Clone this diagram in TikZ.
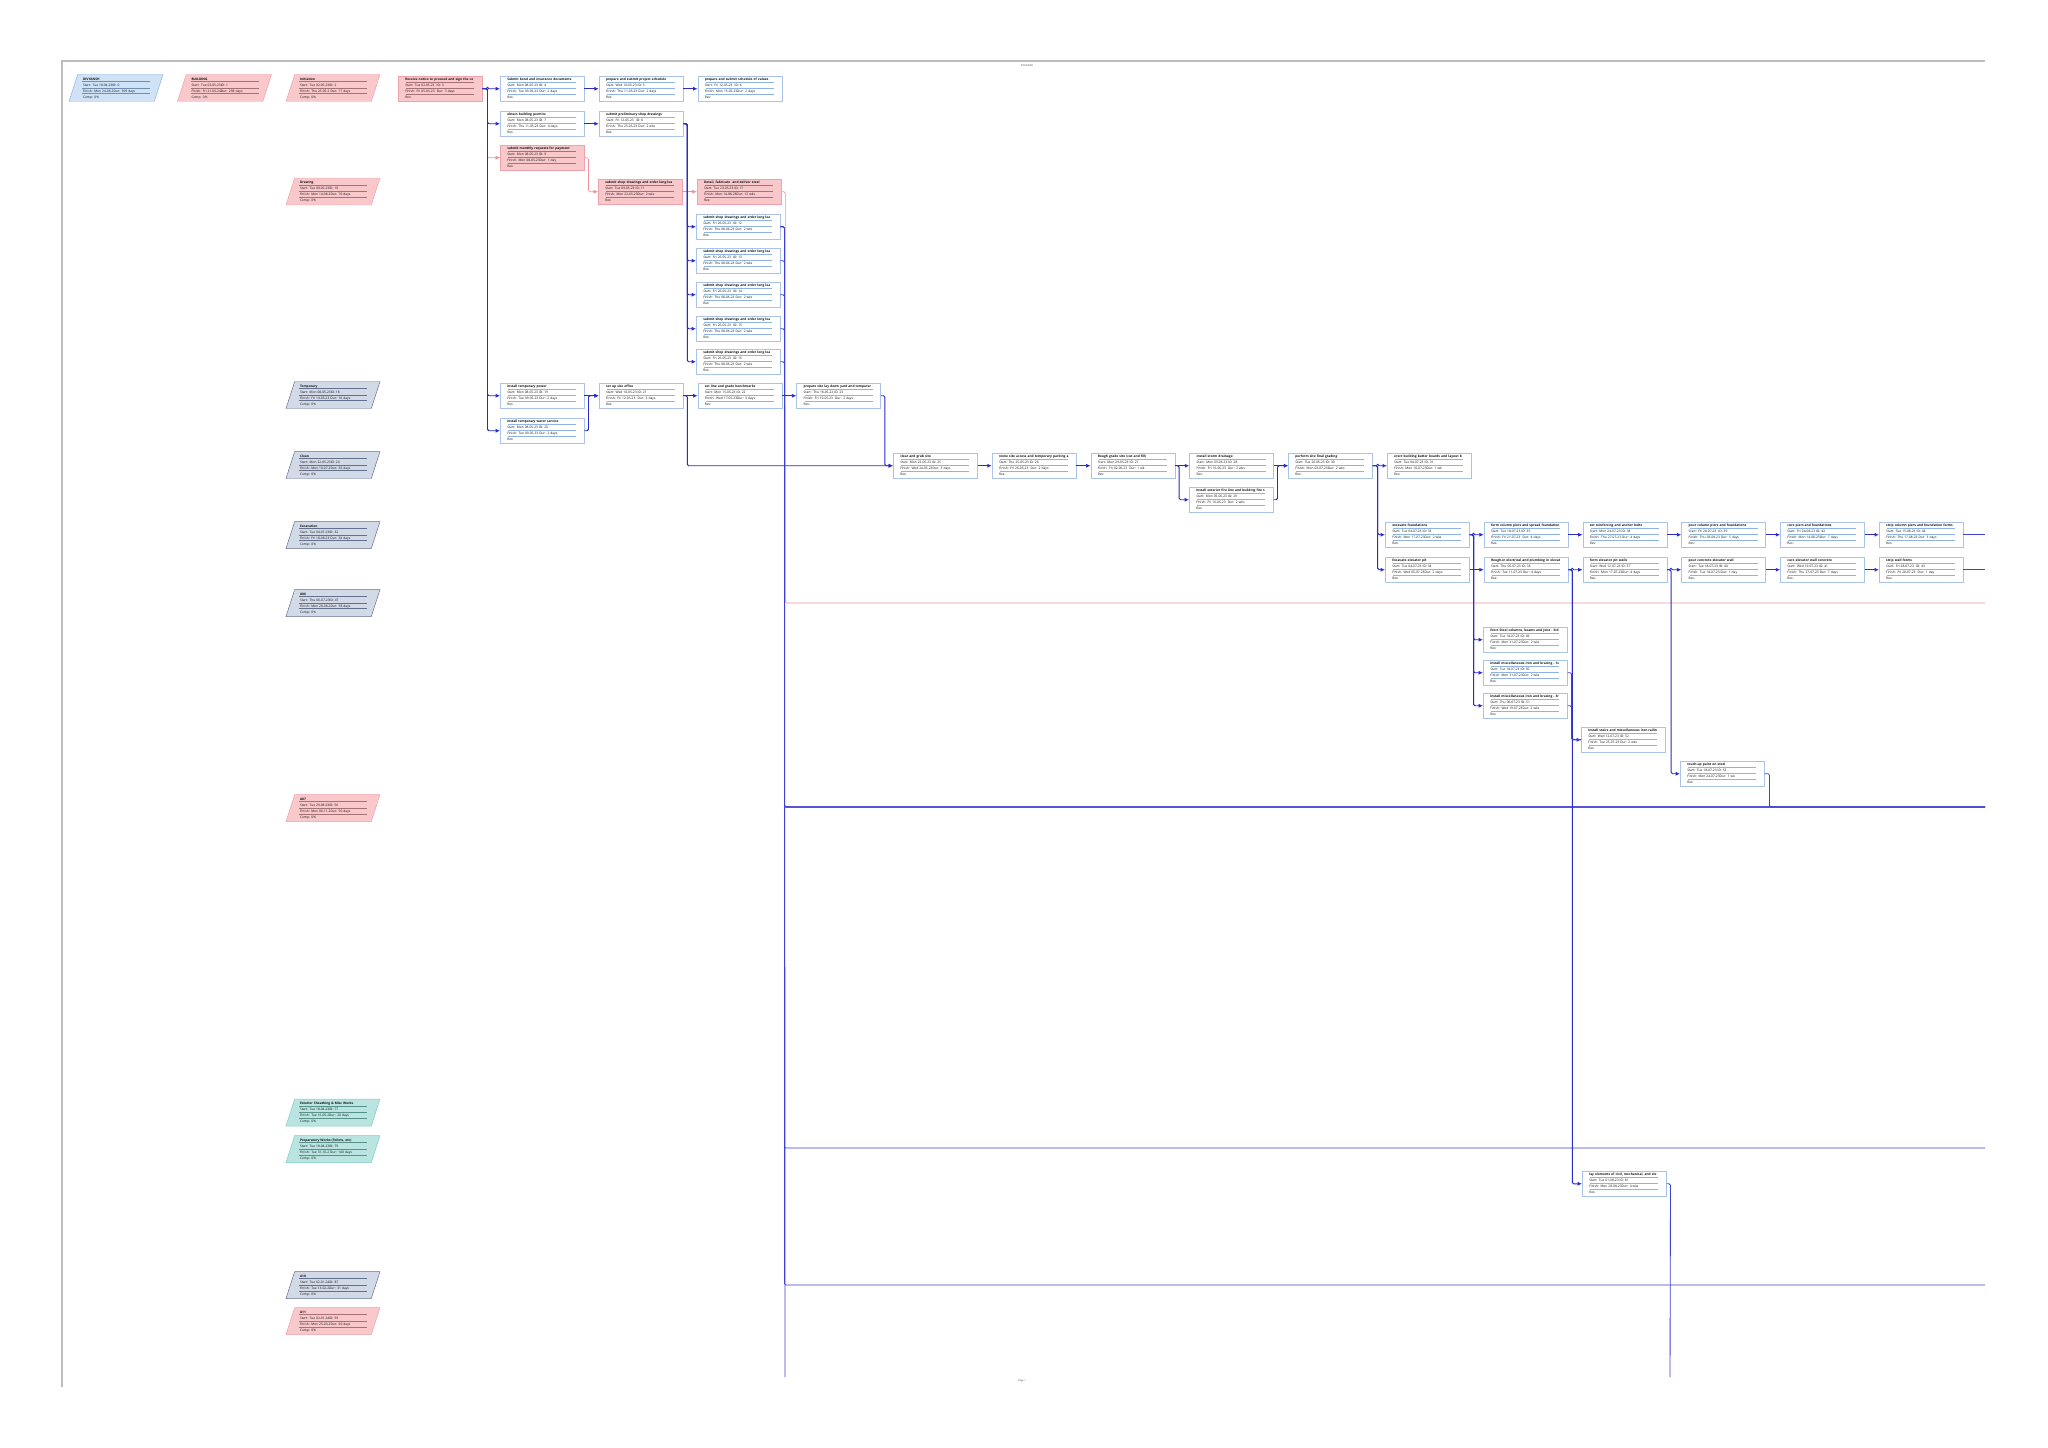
\documentclass[tikz,border=0pt]{standalone}
\usepackage{fontspec}
\setmainfont{Open Sans}
\usetikzlibrary{arrows.meta, positioning, calc, shapes.geometric}
\definecolor{linkblue}{HTML}{2B2BCC}
\definecolor{critpink}{HTML}{F0909C}
\definecolor{taskedge}{HTML}{A9C4EA}
\definecolor{rowblue}{HTML}{8FB3E2}
\definecolor{critfill}{HTML}{F9C8CB}
\definecolor{critedge}{HTML}{F0A2AA}
\definecolor{sumbluefill}{HTML}{CFE2F6}
\definecolor{sumblueedge}{HTML}{8DB3E2}
\definecolor{sumgrayfill}{HTML}{D3DAE7}
\definecolor{sumgrayedge}{HTML}{63718F}
\definecolor{sumtealfill}{HTML}{B9E4E0}
\definecolor{sumtealedge}{HTML}{7ECFC7}
\definecolor{framegray}{HTML}{BDBDBD}
\definecolor{txtdark}{HTML}{111111}

\newcommand{\boxfont}{\fontsize{4.6}{8.5}\selectfont}
\newcommand{\taskinfo}[3]{\strut\mbox{\textbf{#1}}\\#2\\#3\\Res:\strut}
\newcommand{\suminfo}[3]{\strut\mbox{\textbf{#1}}\\#2\\#3\\Comp: 0\%\strut}

\begin{document}
\begin{tikzpicture}[
    x=0.05cm, y=-0.05cm,
    node distance=0.715cm,
    text=txtdark,
    taskrows/.style={path picture={
        \foreach \f in {0.24,0.48,0.72} {
            \draw[#1, line width=0.5pt]
                ($(path picture bounding box.north west)!\f!(path picture bounding box.south west)+(0.4cm,0)$) --
                ($(path picture bounding box.north east)!\f!(path picture bounding box.south east)+(-0.4cm,0)$);
        }}},
    sumrows/.style={path picture={
        \foreach \f in {0.26,0.49,0.71} {
            \draw[#1, line width=0.5pt]
                ($(path picture bounding box.north west)!\f!(path picture bounding box.south west)+(0.65cm,0)$) --
                ($(path picture bounding box.north east)!\f!(path picture bounding box.south east)+(-0.65cm,0)$);
        }}},
    taskbox/.style={
        draw=taskedge, fill=white, line width=0.7pt, anchor=north west,
        minimum width=4.2cm, minimum height=1.25cm, text width=3.5cm,
        inner xsep=0.35cm, inner ysep=0pt, align=left, font=\boxfont,
        taskrows=rowblue,
    },
    critbox/.style={taskbox, draw=critedge, fill=critfill, taskrows=critedge!70!black},
    sumbox/.style={
        trapezium, trapezium left angle=70, trapezium right angle=110,
        trapezium stretches body, minimum width=4.7cm, minimum height=1.35cm,
        text width=3.3cm, inner xsep=1pt, inner ysep=0pt, align=left,
        font=\boxfont, line width=0.7pt,
    },
    sumblue/.style={sumbox, draw=sumblueedge, fill=sumbluefill, sumrows=sumblueedge!80!black},
    sumpink/.style={sumbox, draw=critedge, fill=critfill, sumrows=critedge!70!black},
    sumgray/.style={sumbox, draw=sumgrayedge, fill=sumgrayfill, sumrows=sumgrayedge},
    sumteal/.style={sumbox, draw=sumtealedge, fill=sumtealfill, sumrows=sumtealedge!70!black},
    link/.style={-{Latex[length=0.22cm,width=0.2cm]}, line width=1.4pt, color=linkblue, rounded corners=2pt},
    linkoff/.style={line width=1.2pt, color=linkblue!90!white, rounded corners=2pt},
    critlink/.style={-{Latex[length=0.22cm,width=0.2cm]}, line width=0.8pt, color=critpink, rounded corners=2pt},
    critoff/.style={line width=0.8pt, color=critpink, rounded corners=2pt},
    frameline/.style={draw=framegray, line width=1.5pt},
    pagetext/.style={font=\fontsize{3.6}{4}\selectfont, text=black!70},
]

\path[fill=white, use as bounding box] (0,0) rectangle (2048,1448);

% Page frame
\draw[frameline] (62,1387) -- (62,61) -- (1985,61);
\node[pagetext] (header) at (1027,66) {DIVYANSH};
\node[pagetext] (footer) at (1022,1381) {Page 1};

% Summary tasks
\node[sumblue] (proj) at (116,88) {\suminfo{DIVYANSH}{Start: Tue 18-04-23ID: 0}{Finish: Mon 24-06-2Dur: 309 days}};
\node[sumpink] (building) at (224.5,88) {\suminfo{BUILDING}{Start: Tue 02-05-23ID: 1}{Finish: Fri 21-06-24Dur: 298 days}};
\node[sumpink] (initiation) at (333,88) {\suminfo{Initiation}{Start: Tue 02-05-23ID: 2}{Finish: Thu 25-05-2 Dur: 17 days}};
\node[sumpink] (drawing) at (333,191.5) {\suminfo{Drawing}{Start: Tue 09-05-23ID: 10}{Finish: Mon 14-08-2Dur: 70 days}};
\node[sumgray] (temporary) at (333,395) {\suminfo{Temporary}{Start: Mon 08-05-23ID: 18}{Finish: Fri 19-05-23 Dur: 10 days}};
\node[sumgray] (clean) at (333,465) {\suminfo{Clean}{Start: Mon 22-05-23ID: 24}{Finish: Mon 10-07-2Dur: 36 days}};
\node[sumgray] (excavation) at (333,535) {\suminfo{Excavation}{Start: Tue 04-07-23ID: 32}{Finish: Fri 18-08-23 Dur: 34 days}};
\node[sumgray] (a06) at (333,603) {\suminfo{A06}{Start: Thu 06-07-23ID: 47}{Finish: Mon 28-08-2Dur: 38 days}};
\node[sumpink] (a07) at (333,808) {\suminfo{A07}{Start: Tue 29-08-23ID: 56}{Finish: Mon 06-11-2Dur: 50 days}};
\node[sumteal] (sheathing) at (333,1112.5) {\suminfo{Exterior Sheathing \& Misc Works}{Start: Tue 18-04-23ID: 77}{Finish: Tue 16-05-2Dur: 20 days}};
\node[sumteal] (prepworks) at (333,1149) {\suminfo{Preparatory Works (Toilets, etc)}{Start: Tue 18-04-23ID: 79}{Finish: Tue 31-10-2 Dur: 140 days}};
\node[sumgray] (a10) at (333,1285) {\suminfo{A10}{Start: Tue 02-01-24ID: 87}{Finish: Tue 13-02-2Dur: 31 days}};
\node[sumpink] (a11) at (333,1321) {\suminfo{A11}{Start: Tue 02-01-24ID: 93}{Finish: Mon 25-03-2Dur: 60 days}};

% Initiation and drawing tasks
\node[critbox] (rcv) at (398,76) {\taskinfo{Receive notice to proceed and sign the co}{Start: Tue 02-05-23 \ ID: 3}{Finish: Fri 05-05-23 \ Dur: 3 days}};
\node[taskbox] (bond) at (500,76) {\taskinfo{Submit bond and insurance documents}{Start: Mon 08-05-23 ID: 4}{Finish: Tue 09-05-23 Dur: 2 days}};
\node[taskbox, right=of bond] (schedule) {\taskinfo{prepare and submit project schedule}{Start: Wed 10-05-23 ID: 5}{Finish: Thu 11-05-23 Dur: 2 days}};
\node[taskbox, right=of schedule] (values) {\taskinfo{prepare and submit schedule of values}{Start: Fri 12-05-23 \ ID: 6}{Finish: Mon 15-05-23Dur: 2 days}};
\node[taskbox] (permits) at (500,111) {\taskinfo{obtain building permits}{Start: Mon 08-05-23 ID: 7}{Finish: Thu 11-05-23 Dur: 4 days}};
\node[taskbox, right=of permits] (prelim) {\taskinfo{submit preliminary shop drawings}{Start: Fri 12-05-23 \ ID: 8}{Finish: Thu 25-05-23 Dur: 2 wks}};
\node[critbox] (payreq) at (500,145) {\taskinfo{submit monthly requests for payment}{Start: Mon 08-05-23 ID: 9}{Finish: Mon 08-05-23Dur: 1 day}};
\node[critbox] (shopA) at (598,179) {\taskinfo{submit shop drawings and order long lea}{Start: Tue 09-05-23 ID: 11}{Finish: Mon 22-05-23Dur: 2 wks}};
\node[critbox, right=of shopA] (steel) {\taskinfo{Detail, fabricate \ and deliver steel}{Start: Tue 23-05-23 ID: 17}{Finish: Mon 14-08-23Dur: 12 wks}};
\node[taskbox] (shop1) at (696,214) {\taskinfo{submit shop drawings and order long lea}{Start: Fri 26-05-23 \ ID: 12}{Finish: Thu 08-06-23 Dur: 2 wks}};
\node[taskbox] (shop2) at (696,248) {\taskinfo{submit shop drawings and order long lea}{Start: Fri 26-05-23 \ ID: 13}{Finish: Thu 08-06-23 Dur: 2 wks}};
\node[taskbox] (shop3) at (696,282) {\taskinfo{submit shop drawings and order long lea}{Start: Fri 26-05-23 \ ID: 14}{Finish: Thu 08-06-23 Dur: 2 wks}};
\node[taskbox] (shop4) at (696,316) {\taskinfo{submit shop drawings and order long lea}{Start: Fri 26-05-23 \ ID: 15}{Finish: Thu 08-06-23 Dur: 2 wks}};
\node[taskbox] (shop5) at (696,349) {\taskinfo{submit shop drawings and order long lea}{Start: Fri 26-05-23 \ ID: 16}{Finish: Thu 08-06-23 Dur: 2 wks}};

% Temporary and site tasks
\node[taskbox] (power) at (500,383) {\taskinfo{install temporary power}{Start: Mon 08-05-23 ID: 19}{Finish: Tue 09-05-23 Dur: 2 days}};
\node[taskbox] (water) at (500,418) {\taskinfo{install temporary water service}{Start: Mon 08-05-23 ID: 20}{Finish: Tue 09-05-23 Dur: 2 days}};
\node[taskbox, right=of power] (office) {\taskinfo{set up site office}{Start: Wed 10-05-23 ID: 21}{Finish: Fri 12-05-23 \ Dur: 3 days}};
\node[taskbox, right=of office] (benchmarks) {\taskinfo{set line and grade benchmarks}{Start: Mon 15-05-23 ID: 22}{Finish: Wed 17-05-23Dur: 3 days}};
\node[taskbox, right=of benchmarks] (yard) {\taskinfo{prepare site lay down yard and temporar}{Start: Thu 18-05-23 ID: 23}{Finish: Fri 19-05-23 \ Dur: 2 days}};
\node[taskbox] (clear) at (893,453) {\taskinfo{clear and grub site}{Start: Mon 22-05-23 ID: 25}{Finish: Wed 24-05-23Dur: 3 days}};
\node[taskbox, right=of clear] (access) {\taskinfo{stone site access and temporary parking a}{Start: Thu 25-05-23 ID: 26}{Finish: Fri 26-05-23 \ Dur: 2 days}};
\node[taskbox, right=of access] (roughgrade) {\taskinfo{Rough grade site (cut and fill)}{Start: Mon 29-05-23 ID: 27}{Finish: Fri 02-06-23 \ Dur: 1 wk}};
\node[taskbox, right=of roughgrade] (storm) {\taskinfo{install storm drainage}{Start: Mon 05-06-23 ID: 28}{Finish: Fri 16-06-23 \ Dur: 2 wks}};
\node[taskbox] (fireline) at (1189,487) {\taskinfo{install exterior fire line and building fire s}{Start: Mon 05-06-23 ID: 29}{Finish: Fri 16-06-23 \ Dur: 2 wks}};
\node[taskbox, right=of storm] (finalgrade) {\taskinfo{perform site final grading}{Start: Tue 20-06-23 ID: 30}{Finish: Mon 03-07-23Dur: 2 wks}};
\node[taskbox, right=of finalgrade] (batter) {\taskinfo{erect building batter boards and layout b}{Start: Tue 04-07-23 ID: 31}{Finish: Mon 10-07-23Dur: 1 wk}};

% Foundation and elevator tasks
\node[taskbox] (excfound) at (1385,522) {\taskinfo{excavate foundations}{Start: Tue 04-07-23 ID: 33}{Finish: Mon 17-07-23Dur: 2 wks}};
\node[taskbox, right=of excfound] (formcol) {\taskinfo{form column piers and spread foundation}{Start: Tue 18-07-23 ID: 35}{Finish: Fri 21-07-23 \ Dur: 4 days}};
\node[taskbox, right=of formcol] (rebar) {\taskinfo{set reinforcing and anchor bolts}{Start: Mon 24-07-23 ID: 38}{Finish: Thu 27-07-23 Dur: 4 days}};
\node[taskbox, right=of rebar] (pourcol) {\taskinfo{pour column piers and foundations}{Start: Fri 28-07-23 \ ID: 39}{Finish: Thu 03-08-23 Dur: 5 days}};
\node[taskbox, right=of pourcol] (curepiers) {\taskinfo{cure piers and foundations}{Start: Fri 04-08-23 ID: 42}{Finish: Mon 14-08-23Dur: 7 days}};
\node[taskbox, right=of curepiers] (stripcol) {\taskinfo{strip column piers and foundation forms}{Start: Tue 15-08-23 ID: 44}{Finish: Thu 17-08-23 Dur: 3 days}};
\node[taskbox] (excpit) at (1385,557) {\taskinfo{Excavate elevator pit}{Start: Tue 04-07-23 ID: 34}{Finish: Wed 05-07-23Dur: 2 days}};
\node[taskbox, right=of excpit] (roughin) {\taskinfo{Rough-in electrical and plumbing in elevat}{Start: Thu 06-07-23 ID: 36}{Finish: Tue 11-07-23 Dur: 4 days}};
\node[taskbox, right=of roughin] (formpit) {\taskinfo{form elevator pit walls}{Start: Wed 12-07-23 ID: 37}{Finish: Mon 17-07-23Dur: 4 days}};
\node[taskbox, right=of formpit] (pourwall) {\taskinfo{pour concrete elevator wall}{Start: Tue 18-07-23 ID: 40}{Finish: Tue 18-07-23 Dur: 1 day}};
\node[taskbox, right=of pourwall] (curewall) {\taskinfo{cure elevator wall concrete}{Start: Wed 19-07-23 ID: 41}{Finish: Thu 27-07-23 Dur: 7 days}};
\node[taskbox, right=of curewall] (stripwall) {\taskinfo{strip wall forms}{Start: Fri 28-07-23 \ ID: 43}{Finish: Fri 28-07-23 \ Dur: 1 day}};

% Steel tasks
\node[taskbox] (erect) at (1483,627) {\taskinfo{Erect Steel columns, beams and joist - 3rd}{Start: Tue 18-07-23 ID: 49}{Finish: Mon 31-07-23Dur: 2 wks}};
\node[taskbox] (ironA) at (1483,660) {\taskinfo{Install miscellaneous iron and bracing - 1s}{Start: Tue 18-07-23 ID: 50}{Finish: Mon 31-07-23Dur: 2 wks}};
\node[taskbox] (ironB) at (1483,693) {\taskinfo{Install miscellaneous iron and bracing - 3r}{Start: Thu 06-07-23 ID: 51}{Finish: Wed 19-07-23Dur: 2 wks}};
\node[taskbox] (stairs) at (1581,727) {\taskinfo{Install stairs and miscellaneous iron railin}{Start: Wed 12-07-23 ID: 52}{Finish: Tue 25-07-23 Dur: 2 wks}};
\node[taskbox] (paint) at (1680,761) {\taskinfo{touch-up paint on steel}{Start: Tue 18-07-23 ID: 53}{Finish: Mon 24-07-23Dur: 1 wk}};
\node[taskbox] (layelem) at (1582,1171) {\taskinfo{lay elements of civil, mechanical, and ele}{Start: Tue 01-08-23 ID: 81}{Finish: Mon 28-08-23Dur: 4 wks}};

% Off-page ends
\coordinate (edgeR) at (1985,0);
\coordinate (critout) at (1985,603);
\coordinate (outA) at (1985,807);
\coordinate (outB) at (1985,1148);
\coordinate (outC) at (1985,1285);
\coordinate (outD) at (785,1377);
\coordinate (outE) at (1670,1377);

% Critical path arrows
\draw[critlink] (rcv.east) -- ++(5,0) |- (payreq.west);
\draw[critlink] (payreq.east) -- ++(4,0) |- (shopA.west);
\draw[critlink] (shopA) -- (steel);
\draw[critoff] (steel.east) -- ++(4,0) |- (critout);

% Main flow arrows
\foreach \t in {bond,permits,power,water}
    \draw[link] (rcv.east) -- ++(5,0) |- (\t.west);
\draw[link] (bond) -- (schedule);
\draw[link] (schedule) -- (values);
\draw[link] (permits) -- (prelim);
\foreach \t in {shop1,shop2,shop3,shop4,shop5}
    \draw[link] (prelim.east) -- ++(4,0) |- (\t.west);
\foreach \t in {shop1,shop2,shop3,shop4,shop5}
    \draw[linkoff] (\t.east) -- ++(4,0) |- (outA);
\draw[linkoff] (shop1.east) -- ++(4,0) |- (outB);
\draw[linkoff] (shop1.east) -- ++(4,0) |- (outC);
\draw[linkoff] (shop1.east) -- ++(4,0) -- (outD);

\draw[link] (power) -- (office);
\draw[link] (water.east) -- ++(4,0) |- (office.west);
\draw[link] (office) -- (benchmarks);
\draw[link] (benchmarks) -- (yard);
\draw[link] (office.east) -- ++(4,0) |- (clear.west);
\draw[link] (yard.east) -- ++(4,0) |- (clear.west);
\draw[link] (clear) -- (access);
\draw[link] (access) -- (roughgrade);
\draw[link] (roughgrade) -- (storm);
\draw[link] (roughgrade.east) -- ++(4,0) |- (fireline.west);
\draw[link] (storm) -- (finalgrade);
\draw[link] (fireline.east) -- ++(4,0) |- (finalgrade.west);
\foreach \t in {batter,excfound,excpit}
    \draw[link] (finalgrade.east) -- ++(5,0) |- (\t.west);

% Foundation arrows
\foreach \t in {formcol,erect,ironA,ironB}
    \draw[link] (excfound.east) -- ++(4,0) |- (\t.west);
\draw[link] (excpit) -- (roughin);
\draw[link] (formcol) -- (rebar);
\draw[link] (rebar) -- (pourcol);
\draw[link] (pourcol) -- (curepiers);
\draw[link] (curepiers) -- (stripcol);
\foreach \t in {formpit,stairs,layelem}
    \draw[link] (roughin.east) -- ++(4,0) |- (\t.west);
\foreach \t in {ironA,ironB}
    \draw[linkoff] (\t.east) -- ++(4,0) |- (stairs.west);
\foreach \t in {pourwall,paint}
    \draw[link] (formpit.east) -- ++(4,0) |- (\t.west);
\draw[link] (pourwall) -- (curewall);
\draw[link] (curewall) -- (stripwall);

% Links running off the page
\draw[linkoff] (stripcol.east) -- (stripcol.east -| edgeR);
\draw[linkoff] (stripwall.east) -- (stripwall.east -| edgeR);
\draw[linkoff] (paint.east) -- ++(5,0) |- (outA);
\draw[linkoff] (layelem.east) -- ++(4,0) -- (outE);

\end{tikzpicture}
\end{document}
